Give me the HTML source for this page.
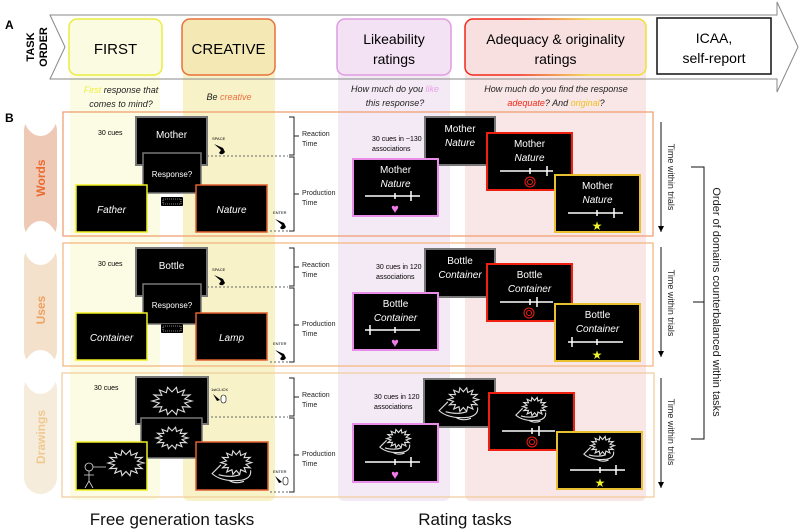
<!DOCTYPE html>
<html><head><meta charset="utf-8"><style>
html,body{margin:0;padding:0;background:#fff}
svg{display:block}
text{font-family:"Liberation Sans",sans-serif}
</style></head><body>
<svg width="800" height="530" viewBox="0 0 800 530" xmlns="http://www.w3.org/2000/svg">
<defs>
<polygon id="sb" points="1,0 .634,.145 .901,.434 .508,.405 .623,.782 .282,.586 .223,.975 0,.65 -.223,.975 -.282,.586 -.623,.782 -.508,.405 -.901,.434 -.634,.145 -1,0 -.634,-.145 -.901,-.434 -.508,-.405 -.623,-.782 -.282,-.586 -.223,-.975 0,-.65 .223,-.975 .282,-.586 .623,-.782 .508,-.405 .901,-.434 .634,-.145" fill="none" stroke="#ddd" stroke-width="1.1" vector-effect="non-scaling-stroke"/>
<g id="hh">
<use href="#sb" transform="translate(3,-4) scale(14,11)"/>
<path d="M-11,-2 L-19,6 Q-10,14 8,12 Q17,10 16,3 M-4,12 Q2,16 10,13 M-13,7 Q-2,10 6,7" fill="none" stroke="#ddd" stroke-width="1.1" vector-effect="non-scaling-stroke"/>
</g>
<linearGradient id="rg" x1="0" x2="1" y1="0" y2="0"><stop offset="0.3" stop-color="#f02818"/><stop offset="0.7" stop-color="#f0e030"/></linearGradient>
<marker id="ah" markerWidth="7" markerHeight="6" refX="6" refY="3" orient="auto" markerUnits="userSpaceOnUse"><path d="M0,0 L6,3 L0,6 Z" fill="#000"/></marker>
</defs>

<!-- column shading -->
<rect x="70" y="60" width="90" height="440" rx="6" fill="#fcfce4"/>
<rect x="183" y="60" width="92" height="441" rx="6" fill="#f8f2c8"/>
<rect x="338" y="60" width="112" height="441" rx="6" fill="#f4eaf5"/>
<rect x="465" y="60" width="181" height="441" rx="6" fill="#f9e6e6"/>

<!-- banner -->
<polygon points="50,15 777,15 777,2 798,47 777,92 777,79 50,79 65,47" fill="none" stroke="#888" stroke-width="1"/>
<text x="5" y="29" font-size="12" font-weight="bold">A</text>
<text transform="translate(34,47) rotate(-90)" text-anchor="middle" font-size="11" font-weight="bold">TASK</text>
<text transform="translate(47,47) rotate(-90)" text-anchor="middle" font-size="11" font-weight="bold">ORDER</text>

<rect x="69" y="19" width="93" height="56" rx="8" fill="#fbfbe2" stroke="#ecec40" stroke-width="1.5"/>
<text x="115.5" y="54" text-anchor="middle" font-size="15">FIRST</text>
<rect x="182" y="19" width="93" height="56" rx="8" fill="#f4e9b4" stroke="#e8703a" stroke-width="1.5"/>
<text x="228.5" y="54" text-anchor="middle" font-size="15">CREATIVE</text>
<rect x="337" y="19" width="114" height="56" rx="8" fill="#f3e2f4" stroke="#e09be0" stroke-width="1.5"/>
<text x="394" y="44" text-anchor="middle" font-size="14">Likeability</text>
<text x="394" y="64" text-anchor="middle" font-size="14">ratings</text>
<rect x="465" y="19" width="181" height="56" rx="8" fill="#f9e0e0" stroke="url(#rg)" stroke-width="1.5"/>
<text x="555.5" y="44" text-anchor="middle" font-size="14">Adequacy &amp; originality</text>
<text x="555.5" y="64" text-anchor="middle" font-size="14">ratings</text>
<rect x="657" y="18" width="114" height="56" fill="#fff" stroke="#111" stroke-width="1.5"/>
<text x="714" y="43" text-anchor="middle" font-size="14">ICAA,</text>
<text x="714" y="63" text-anchor="middle" font-size="14">self-report</text>

<g font-size="9" font-style="italic" text-anchor="middle" fill="#222">
<text x="121" y="93"><tspan fill="#eeee40">First</tspan> response that</text>
<text x="121" y="107">comes to mind?</text>
<text x="229" y="100">Be <tspan fill="#ee7040">creative</tspan></text>
<text x="395" y="92">How much do you <tspan fill="#e8a0e8">like</tspan></text>
<text x="395" y="106">this response?</text>
<text x="556" y="92">How much do you find the response</text>
<text x="556" y="106"><tspan fill="#f02818">adequate</tspan>? And <tspan fill="#f0c020">original</tspan>?</text>
</g>

<text x="5" y="122" font-size="12" font-weight="bold">B</text>

<!-- pills -->
<rect x="24" y="114" width="33" height="127" rx="16.5" fill="#eecab6"/>
<ellipse cx="40.5" cy="114" rx="17" ry="22" fill="#fff"/>
<rect x="24" y="243" width="33" height="124" rx="16.5" fill="#f3e1cc"/>
<ellipse cx="40.5" cy="243" rx="17" ry="22" fill="#fff"/>
<rect x="24" y="372" width="33" height="122" rx="16.5" fill="#f6ecdb"/>
<ellipse cx="40.5" cy="372" rx="17" ry="22" fill="#fff"/>
<text transform="translate(45,178) rotate(-90)" text-anchor="middle" font-size="12" font-weight="bold" fill="#ea6a30">Words</text>
<text transform="translate(45,310) rotate(-90)" text-anchor="middle" font-size="12" font-weight="bold" fill="#f0a060">Uses</text>
<text transform="translate(45,437) rotate(-90)" text-anchor="middle" font-size="12" font-weight="bold" fill="#f0c890">Drawings</text>

<!-- panels -->
<rect x="63" y="112" width="590" height="124" fill="none" stroke="#f09a6a" stroke-width="1.2"/>
<rect x="63" y="243" width="590" height="123" fill="none" stroke="#f3b47a" stroke-width="1.2"/>
<rect x="62" y="373" width="592" height="124" fill="none" stroke="#f0cc98" stroke-width="1.2"/>

<g id="common" fill="none" stroke="#222" stroke-width="1">
<path d="M289,117 H294 V155 H289 M289,157 H294 V231 H289 M294,136 H299 M294,194 H299"/>
<path d="M207,156 H288 M270,231 H288" stroke="#666" stroke-dasharray="2,2"/>
</g>
<g id="commontext" font-size="7" fill="#222">
<text x="302" y="136">Reaction</text><text x="302" y="146">Time</text>
<text x="302" y="195">Production</text><text x="302" y="205">Time</text>
</g>
<use href="#common" y="131"/><use href="#commontext" y="131"/>
<use href="#common" y="261"/><use href="#commontext" y="261"/>

<!-- WORDS free gen -->
<g>
<text x="98" y="135" font-size="7">30 cues</text>
<rect x="136" y="117" width="71" height="48" fill="#000" stroke="#777" stroke-width="2"/>
<text x="171.5" y="138" text-anchor="middle" font-size="10" fill="#fff">Mother</text>
<rect x="143" y="153" width="58" height="40" fill="#000" stroke="#777" stroke-width="1.5"/>
<text x="172" y="177" text-anchor="middle" font-size="8" fill="#fff">Response?</text>
<rect x="76" y="185" width="71" height="47" fill="#000" stroke="#f0f020" stroke-width="1.5"/>
<text x="111.5" y="213" text-anchor="middle" font-size="10" font-style="italic" fill="#fff">Father</text>
<rect x="196" y="185" width="71" height="47" fill="#000" stroke="#e06030" stroke-width="1.5"/>
<text x="231.5" y="213" text-anchor="middle" font-size="10" font-style="italic" fill="#fff">Nature</text>
<rect x="161" y="197" width="22" height="9" fill="#000" rx="1"/><rect x="163" y="199" width="18" height="5" fill="none" stroke="#fff" stroke-width="0.6" stroke-dasharray="1,1"/>
<text x="212" y="140" font-size="4">SPACE</text>
<path d="M214,144 L221,150 L219,153 Q222,156 225,152 L223,148 Z" fill="#000"/>
<text x="273" y="214" font-size="4">ENTER</text>
<path d="M275,219 L282,225 L280,228 Q283,231 286,227 L284,223 Z" fill="#000"/>
</g>
<!-- USES free gen -->
<g transform="translate(0,131)">
<text x="98" y="135" font-size="7">30 cues</text>
<rect x="136" y="117" width="71" height="48" fill="#000" stroke="#777" stroke-width="2"/>
<text x="171.5" y="138" text-anchor="middle" font-size="10" fill="#fff">Bottle</text>
<rect x="143" y="153" width="58" height="40" fill="#000" stroke="#777" stroke-width="1.5"/>
<text x="172" y="177" text-anchor="middle" font-size="8" fill="#fff">Response?</text>
<rect x="76" y="182" width="71" height="47" fill="#000" stroke="#f0f020" stroke-width="1.5"/>
<text x="111.5" y="210" text-anchor="middle" font-size="10" font-style="italic" fill="#fff">Container</text>
<rect x="196" y="182" width="71" height="47" fill="#000" stroke="#e06030" stroke-width="1.5"/>
<text x="231.5" y="210" text-anchor="middle" font-size="10" font-style="italic" fill="#fff">Lamp</text>
<rect x="161" y="193" width="22" height="9" fill="#000" rx="1"/><rect x="163" y="195" width="18" height="5" fill="none" stroke="#fff" stroke-width="0.6" stroke-dasharray="1,1"/>
<text x="212" y="140" font-size="4">SPACE</text>
<path d="M214,144 L221,150 L219,153 Q222,156 225,152 L223,148 Z" fill="#000"/>
<text x="273" y="214" font-size="4">ENTER</text>
<path d="M275,219 L282,225 L280,228 Q283,231 286,227 L284,223 Z" fill="#000"/>
</g>
<!-- DRAWINGS free gen -->
<g transform="translate(0,260)">
<text x="94" y="130" font-size="7">30 cues</text>
<rect x="136" y="117" width="72" height="47" fill="#000" stroke="#777" stroke-width="2"/>
<use href="#sb" transform="translate(172,141) scale(20,14)"/>
<rect x="141" y="158" width="61" height="40" fill="#000" stroke="#777" stroke-width="1.5"/>
<use href="#sb" transform="translate(172,178) scale(16,11)"/>
<rect x="76" y="182" width="71" height="48" fill="#000" stroke="#f0f020" stroke-width="1.5"/>
<use href="#sb" transform="translate(126,203) scale(18,13)"/>
<g fill="none" stroke="#ddd" stroke-width="0.8"><circle cx="89" cy="207" r="4"/><path d="M89,211 V221 L85,228 M89,221 L93,228 M84,215 H94 M93,207 H106"/></g>
<rect x="196" y="182" width="72" height="48" fill="#000" stroke="#e06030" stroke-width="1.5"/>
<use href="#hh" transform="translate(233,207) scale(1.1)"/>
<text x="211" y="131" font-size="4">1stCLICK</text>
<path d="M213,134 L220,140 L217,141 Z" fill="#000"/><rect x="221" y="135" width="5" height="8" rx="2.5" fill="#fff" stroke="#000" stroke-width="0.6"/>
<text x="273" y="213" font-size="4">ENTER</text>
<path d="M275,216 L282,222 L279,223 Z" fill="#000"/><rect x="283" y="217" width="5" height="8" rx="2.5" fill="#fff" stroke="#000" stroke-width="0.6"/>
</g>

<!-- RATINGS: Words -->
<g>
<text x="372" y="141" font-size="7">30 cues in ~130</text><text x="372" y="151" font-size="7">associations</text>
<rect x="425" y="117" width="70" height="48" fill="#000" stroke="#777" stroke-width="2"/>
<text x="460" y="132" text-anchor="middle" font-size="10" fill="#fff">Mother</text>
<text x="460" y="146" text-anchor="middle" font-size="10" font-style="italic" fill="#fff">Nature</text>
<rect x="353" y="159" width="85" height="57" fill="#000" stroke="#e88ee8" stroke-width="2"/>
<text x="395.5" y="173" text-anchor="middle" font-size="10" fill="#fff">Mother</text>
<text x="395.5" y="187" text-anchor="middle" font-size="10" font-style="italic" fill="#fff">Nature</text>
<path d="M365,196 H420 M395,193 V199 M411,191 V201" stroke="#fff" stroke-width="1.5"/>
<text x="395" y="213" text-anchor="middle" font-size="13" fill="#f07ae8">♥</text>
<rect x="487" y="133" width="85" height="57" fill="#000" stroke="#f02010" stroke-width="2"/>
<text x="529.5" y="147" text-anchor="middle" font-size="10" fill="#fff">Mother</text>
<text x="529.5" y="161" text-anchor="middle" font-size="10" font-style="italic" fill="#fff">Nature</text>
<path d="M500,171 H553 M530,168 V174 M547,166 V176" stroke="#fff" stroke-width="1.5"/>
<g fill="none" stroke="#f02010" stroke-width="1"><circle cx="530" cy="182" r="5"/><circle cx="530" cy="182" r="2.5"/></g>
<rect x="555" y="175" width="85" height="57" fill="#000" stroke="#e8c030" stroke-width="2"/>
<text x="597.5" y="189" text-anchor="middle" font-size="10" fill="#fff">Mother</text>
<text x="597.5" y="203" text-anchor="middle" font-size="10" font-style="italic" fill="#fff">Nature</text>
<path d="M568,213 H623 M597,210 V216 M614,208 V218" stroke="#fff" stroke-width="1.5"/>
<text x="597" y="230" text-anchor="middle" font-size="12" fill="#f0f030">★</text>
</g>
<!-- RATINGS: Uses -->
<g transform="translate(0,132)">
<text x="376" y="137" font-size="7">30 cues in 120</text><text x="376" y="147" font-size="7">associations</text>
<rect x="425" y="117" width="70" height="48" fill="#000" stroke="#777" stroke-width="2"/>
<text x="460" y="132" text-anchor="middle" font-size="10" fill="#fff">Bottle</text>
<text x="460" y="146" text-anchor="middle" font-size="10" font-style="italic" fill="#fff">Container</text>
<rect x="353" y="161" width="85" height="57" fill="#000" stroke="#e88ee8" stroke-width="2"/>
<text x="395.5" y="175" text-anchor="middle" font-size="10" fill="#fff">Bottle</text>
<text x="395.5" y="189" text-anchor="middle" font-size="10" font-style="italic" fill="#fff">Container</text>
<path d="M365,198 H420 M395,195 V201 M370,193 V203" stroke="#fff" stroke-width="1.5"/>
<text x="395" y="215" text-anchor="middle" font-size="13" fill="#f07ae8">♥</text>
<rect x="487" y="132" width="85" height="57" fill="#000" stroke="#f02010" stroke-width="2"/>
<text x="529.5" y="146" text-anchor="middle" font-size="10" fill="#fff">Bottle</text>
<text x="529.5" y="160" text-anchor="middle" font-size="10" font-style="italic" fill="#fff">Container</text>
<path d="M500,170 H553 M530,167 V173 M537,165 V175" stroke="#fff" stroke-width="1.5"/>
<g fill="none" stroke="#f02010" stroke-width="1"><circle cx="529" cy="181" r="5"/><circle cx="529" cy="181" r="2.5"/></g>
<rect x="555" y="172" width="85" height="57" fill="#000" stroke="#e8c030" stroke-width="2"/>
<text x="597.5" y="186" text-anchor="middle" font-size="10" fill="#fff">Bottle</text>
<text x="597.5" y="200" text-anchor="middle" font-size="10" font-style="italic" fill="#fff">Container</text>
<path d="M568,210 H623 M597,207 V213 M572,205 V215" stroke="#fff" stroke-width="1.5"/>
<text x="597" y="227" text-anchor="middle" font-size="12" fill="#f0f030">★</text>
</g>
<!-- RATINGS: Drawings -->
<g transform="translate(0,262)">
<text x="374" y="137" font-size="7">30 cues in 120</text><text x="374" y="147" font-size="7">associations</text>
<rect x="424" y="117" width="71" height="48" fill="#000" stroke="#777" stroke-width="2"/>
<use href="#hh" transform="translate(460,142) scale(1.1)"/>
<rect x="353" y="162" width="85" height="58" fill="#000" stroke="#e88ee8" stroke-width="2"/>
<use href="#hh" transform="translate(396,180) scale(0.85)"/>
<path d="M365,200 H420 M395,197 V203 M411,195 V205" stroke="#fff" stroke-width="1.5"/>
<text x="395" y="217" text-anchor="middle" font-size="13" fill="#f07ae8">♥</text>
<rect x="489" y="131" width="85" height="57" fill="#000" stroke="#f02010" stroke-width="2"/>
<use href="#hh" transform="translate(532,148) scale(0.85)"/>
<path d="M502,169 H555 M532,166 V172 M539,164 V174" stroke="#fff" stroke-width="1.5"/>
<g fill="none" stroke="#f02010" stroke-width="1"><circle cx="532" cy="180" r="5"/><circle cx="532" cy="180" r="2.5"/></g>
<rect x="557" y="170" width="85" height="57" fill="#000" stroke="#e8c030" stroke-width="2"/>
<use href="#hh" transform="translate(600,187) scale(0.85)"/>
<path d="M570,208 H625 M600,205 V211 M616,203 V213" stroke="#fff" stroke-width="1.5"/>
<text x="600" y="225" text-anchor="middle" font-size="12" fill="#f0f030">★</text>
</g>

<!-- right side -->
<g stroke="#111" stroke-width="1" fill="none">
<path d="M661,122 V232" marker-end="url(#ah)"/>
<path d="M661,247 V357" marker-end="url(#ah)"/>
<path d="M661,378 V488" marker-end="url(#ah)"/>
<path d="M691,167 H704 V439 H691 M693,302 H704"/>
</g>
<g font-size="9" fill="#222" text-anchor="middle">
<text transform="translate(668,177) rotate(90)">Time within trials</text>
<text transform="translate(668,303) rotate(90)">Time within trials</text>
<text transform="translate(668,432) rotate(90)">Time within trials</text>
</g>
<text transform="translate(713,302) rotate(90)" text-anchor="middle" font-size="11" fill="#222">Order of domains counterbalanced within tasks</text>

<text x="172" y="525" text-anchor="middle" font-size="17" fill="#111">Free generation tasks</text>
<text x="465" y="525" text-anchor="middle" font-size="17" fill="#111">Rating tasks</text>
</svg>
</body></html>
